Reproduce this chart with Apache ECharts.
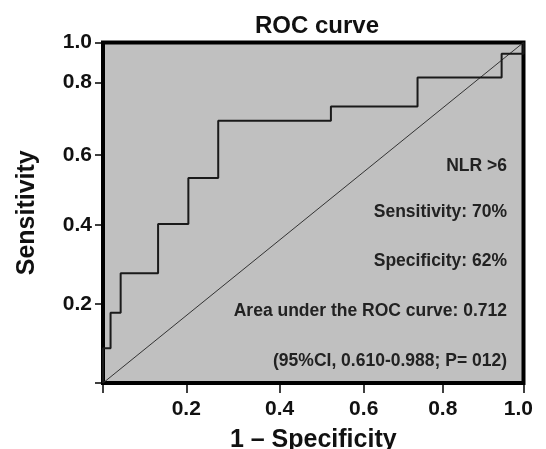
<!DOCTYPE html>
<html>
<head>
<meta charset="utf-8">
<title>ROC curve</title>
<script src="https://cdn.jsdelivr.net/npm/echarts@6/dist/echarts.min.js"></script>
<style>
  html, body { margin: 0; padding: 0; background: #fff; }
  #chart { width: 546px; height: 449px; }
</style>
</head>
<body>
<div id="chart"></div>
<script>
// ROC points (1 - specificity, sensitivity)
var fpr = [0, 0, 0.018, 0.042, 0.131, 0.203, 0.274, 0.542, 0.748, 0.948, 1];
var tpr = [0, 0.102, 0.206, 0.322, 0.467, 0.602, 0.770, 0.812, 0.897, 0.967, 1];

// reference line
var refX = [0, 1];
var refY = [0, 1];

// tick labels, and where the reference puts them along each axis
var xTickText = ['0.2', '0.4', '0.6', '0.8', '1.0'];
var xTickAt = [0.198, 0.42, 0.62, 0.808, 1.0];
var xLabelAt = [0.198, 0.42, 0.62, 0.808, 0.988];
var yTickText = ['0.2', '0.4', '0.6', '0.8', '1.0'];
var yTickAt = [0.232, 0.464, 0.670, 0.882, 1.0];

// text in the box
var notes = [
  'NLR >6',
  'Sensitivity: 70%',
  'Specificity: 62%',
  'Area under the ROC curve: 0.712',
  '(95%CI, 0.610-0.988; P= 012)'
];

var font = '"Liberation Sans", Arial, sans-serif';

function pickLabel(texts, at) {
  return function (v) {
    var best = 0;
    for (var i = 1; i < at.length; i++) {
      if (Math.abs(at[i] - v) < Math.abs(at[best] - v)) best = i;
    }
    return texts[best];
  };
}

function zip(a, b) {
  var out = [];
  for (var i = 0; i < a.length; i++) out.push([a[i], b[i]]);
  return out;
}

var myChart = echarts.init(document.getElementById('chart'));

var noteY = [167, 213, 262, 312, 362];
var graphics = notes.map(function (t, i) {
  return {
    type: 'text',
    right: 39,
    top: noteY[i] - 10,
    style: {
      text: t,
      font: 'bold 17.5px ' + font,
      fill: '#222'
    }
  };
});

var option = {
  animation: false,
  title: {
    text: 'ROC curve',
    left: 312,
    top: 9,
    textAlign: 'center',
    textStyle: { fontFamily: font, fontSize: 24, fontWeight: 'bold', color: '#111' }
  },
  grid: {
    left: 103,
    right: 22.5,
    top: 42.5,
    bottom: 66,
    containLabel: false,
    outerBoundsMode: 'none',
    show: true,
    backgroundColor: '#c0c0c0',
    borderColor: '#000',
    borderWidth: 4
  },
  xAxis: {
    type: 'value',
    min: 0,
    max: 1,
    name: '1 \u2013 Specificity',
    nameLocation: 'middle',
    nameGap: 45,
    nameTextStyle: { fontFamily: font, fontSize: 25, fontWeight: 'bold', color: '#111' },
    axisLine: { show: false },
    splitLine: { show: false },
    axisTick: {
      show: true,
      length: 10,
      customValues: [0].concat(xTickAt),
      lineStyle: { color: '#000', width: 1.5 }
    },
    axisLabel: {
      customValues: xLabelAt,
      margin: 16,
      formatter: pickLabel(xTickText, xLabelAt),
      fontFamily: font,
      fontSize: 21,
      fontWeight: 'bold',
      color: '#111'
    }
  },
  yAxis: {
    type: 'value',
    min: 0,
    max: 1,
    name: 'Sensitivity',
    nameLocation: 'middle',
    nameGap: 63,
    nameTextStyle: { fontFamily: font, fontSize: 25, fontWeight: 'bold', color: '#111' },
    axisLine: { show: false },
    splitLine: { show: false },
    axisTick: {
      show: true,
      length: 8,
      customValues: [0].concat(yTickAt),
      lineStyle: { color: '#000', width: 1.5 }
    },
    axisLabel: {
      customValues: yTickAt,
      margin: 11,
      formatter: pickLabel(yTickText, yTickAt),
      fontFamily: font,
      fontSize: 21,
      fontWeight: 'bold',
      color: '#111'
    }
  },
  series: [
    {
      name: 'reference',
      type: 'line',
      data: zip(refX, refY),
      symbol: 'none',
      lineStyle: { color: '#333', width: 1 },
      z: 2
    },
    {
      name: 'ROC',
      type: 'line',
      step: 'end',
      data: zip(fpr, tpr),
      symbol: 'none',
      lineStyle: { color: '#1a1a1a', width: 2 },
      z: 3
    }
  ],
  graphic: graphics
};

myChart.setOption(option);
</script>
</body>
</html>
